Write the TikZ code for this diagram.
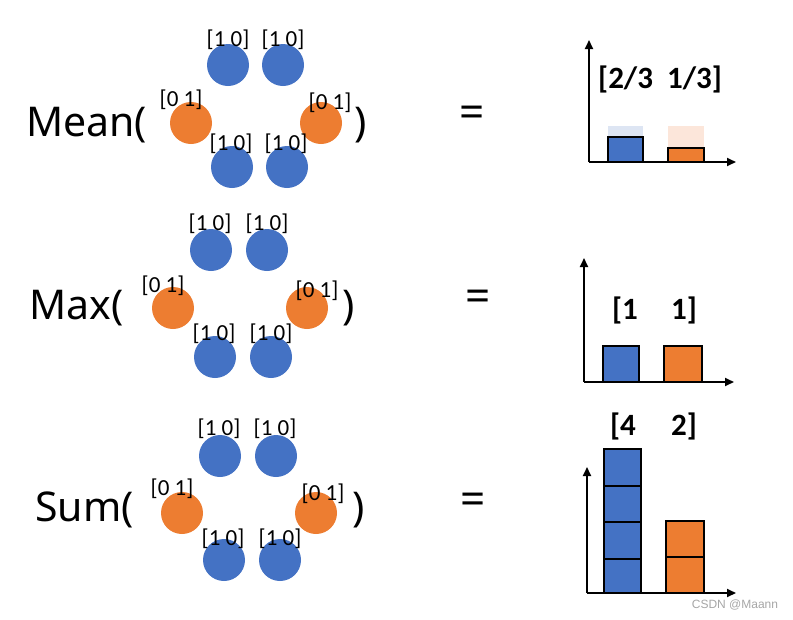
\documentclass[tikz,border=0pt]{standalone}
\usepackage{fontspec}
\setmainfont{Carlito}
\newfontfamily\bigfont{Noto Sans}
\newfontfamily\wmfont{Liberation Sans}
\usetikzlibrary{arrows.meta}
\definecolor{cblue}{HTML}{4472C4}
\definecolor{corange}{HTML}{ED7D31}
\definecolor{ghostblue}{HTML}{DDE5F3}
\definecolor{ghostorange}{HTML}{FCE6DA}
\tikzset{
  bluedot/.style={circle,fill=cblue,minimum size=42pt,inner sep=0pt},
  orangedot/.style={circle,fill=corange,minimum size=42pt,inner sep=0pt},
  veclabel/.style={inner sep=0pt,font=\fontsize{23}{23}\selectfont},
  funclabel/.style={inner sep=0pt,anchor=base west,font=\bigfont\fontsize{41}{41}\selectfont},
  eqlabel/.style={inner sep=0pt,font=\bigfont\fontsize{44}{44}\selectfont},
  reslabel/.style={inner sep=0pt,font=\bfseries\fontsize{31}{31}\selectfont},
  axisline/.style={line width=1.8pt,-{Triangle[length=9pt,width=8pt]}},
  bluebar/.style={fill=cblue,draw=black,line width=1.3pt},
  orangebar/.style={fill=corange,draw=black,line width=1.3pt},
}
\begin{document}
\begin{tikzpicture}[x=1pt,y=-1pt]
\useasboundingbox (0,0) rectangle (793,619);
% ================= Mean row =================
\node[funclabel] (meanf) at (26,136) {Mean(};
\node[funclabel] (meanc) at (354,136) {)};
\node[bluedot] (m1) at (228,65) {};
\node[bluedot] (m2) at (283,65) {};
\node[orangedot] (m3) at (191,123) {};
\node[orangedot] (m4) at (321,123) {};
\node[bluedot] (m5) at (232,167) {};
\node[bluedot] (m6) at (287,167) {};
\node[veclabel] (ml1) at (228,40) {[1 0]};
\node[veclabel] (ml2) at (283,40) {[1 0]};
\node[veclabel] (ml3) at (181,100) {[0 1]};
\node[veclabel] (ml4) at (330,103) {[0 1]};
\node[veclabel] (ml5) at (231,144) {[1 0]};
\node[veclabel] (ml6) at (286,144) {[1 0]};
\node[eqlabel] (meq) at (472,117) {=};
% chart
\coordinate (mo) at (589,162);
\coordinate (my) at (589,40);
\coordinate (mx) at (736,162);
\fill[ghostblue] (608,126) rectangle (643,137);
\fill[ghostorange] (668,126) rectangle (704,148);
\draw[bluebar] (608,137) rectangle (643,162);
\draw[orangebar] (668,148) rectangle (704,162);
\draw[axisline] (mo) -- (my);
\draw[axisline] (mo) -- (mx);
\node[reslabel] (mres) at (660,79) {[2/3\ \ 1/3]};
% ================= Max row =================
\node[funclabel] (maxf) at (29,319) {Max(};
\node[funclabel] (maxc) at (342,319) {)};
\node[bluedot] (x1) at (211,250) {};
\node[bluedot] (x2) at (267,250) {};
\node[orangedot] (x3) at (173,308) {};
\node[orangedot] (x4) at (307,308) {};
\node[bluedot] (x5) at (215,357) {};
\node[bluedot] (x6) at (271,357) {};
\node[veclabel] (xl1) at (210,224) {[1 0]};
\node[veclabel] (xl2) at (267,224) {[1 0]};
\node[veclabel] (xl3) at (163,286) {[0 1]};
\node[veclabel] (xl4) at (317,291) {[0 1]};
\node[veclabel] (xl5) at (214,334) {[1 0]};
\node[veclabel] (xl6) at (271,334) {[1 0]};
\node[eqlabel] (xeq) at (478,301) {=};
% chart
\coordinate (xo) at (584,382);
\coordinate (xy) at (584,258);
\coordinate (xx) at (734,382);
\draw[bluebar] (603,346) rectangle (639,382);
\draw[orangebar] (664,346) rectangle (702,382);
\draw[axisline] (xo) -- (xy);
\draw[axisline] (xo) -- (xx);
\node[reslabel] (xres1) at (625,310) {[1};
\node[reslabel] (xres2) at (684,310) {1]};
% ================= Sum row =================
\node[funclabel] (sumf) at (35,521) {Sum(};
\node[funclabel] (sumc) at (352,521) {)};
\node[bluedot] (s1) at (220,456) {};
\node[bluedot] (s2) at (276,456) {};
\node[orangedot] (s3) at (182,513) {};
\node[orangedot] (s4) at (316,513) {};
\node[bluedot] (s5) at (224,560) {};
\node[bluedot] (s6) at (280,560) {};
\node[veclabel] (sl1) at (219,429) {[1 0]};
\node[veclabel] (sl2) at (275,429) {[1 0]};
\node[veclabel] (sl3) at (172,489) {[0 1]};
\node[veclabel] (sl4) at (323,494) {[0 1]};
\node[veclabel] (sl5) at (223,539) {[1 0]};
\node[veclabel] (sl6) at (280,539) {[1 0]};
\node[eqlabel] (seq) at (473,504) {=};
% chart
\coordinate (so) at (587,593);
\coordinate (sy) at (587,467);
\coordinate (sx) at (736,593);
\draw[bluebar] (604,449) rectangle (641,486);
\draw[bluebar] (604,486) rectangle (641,522);
\draw[bluebar] (604,522) rectangle (641,559);
\draw[bluebar] (604,559) rectangle (641,593);
\draw[orangebar] (666,521) rectangle (704,557);
\draw[orangebar] (666,557) rectangle (704,593);
\draw[axisline] (so) -- (sy);
\draw[axisline] (so) -- (sx);
\node[reslabel] (sres1) at (623,426) {[4};
\node[reslabel] (sres2) at (684,426) {2]};
\node[inner sep=0pt,text=black!35,font=\wmfont\fontsize{12}{12}\selectfont] (wm) at (735,605) {CSDN @Maann};
\end{tikzpicture}
\end{document}
